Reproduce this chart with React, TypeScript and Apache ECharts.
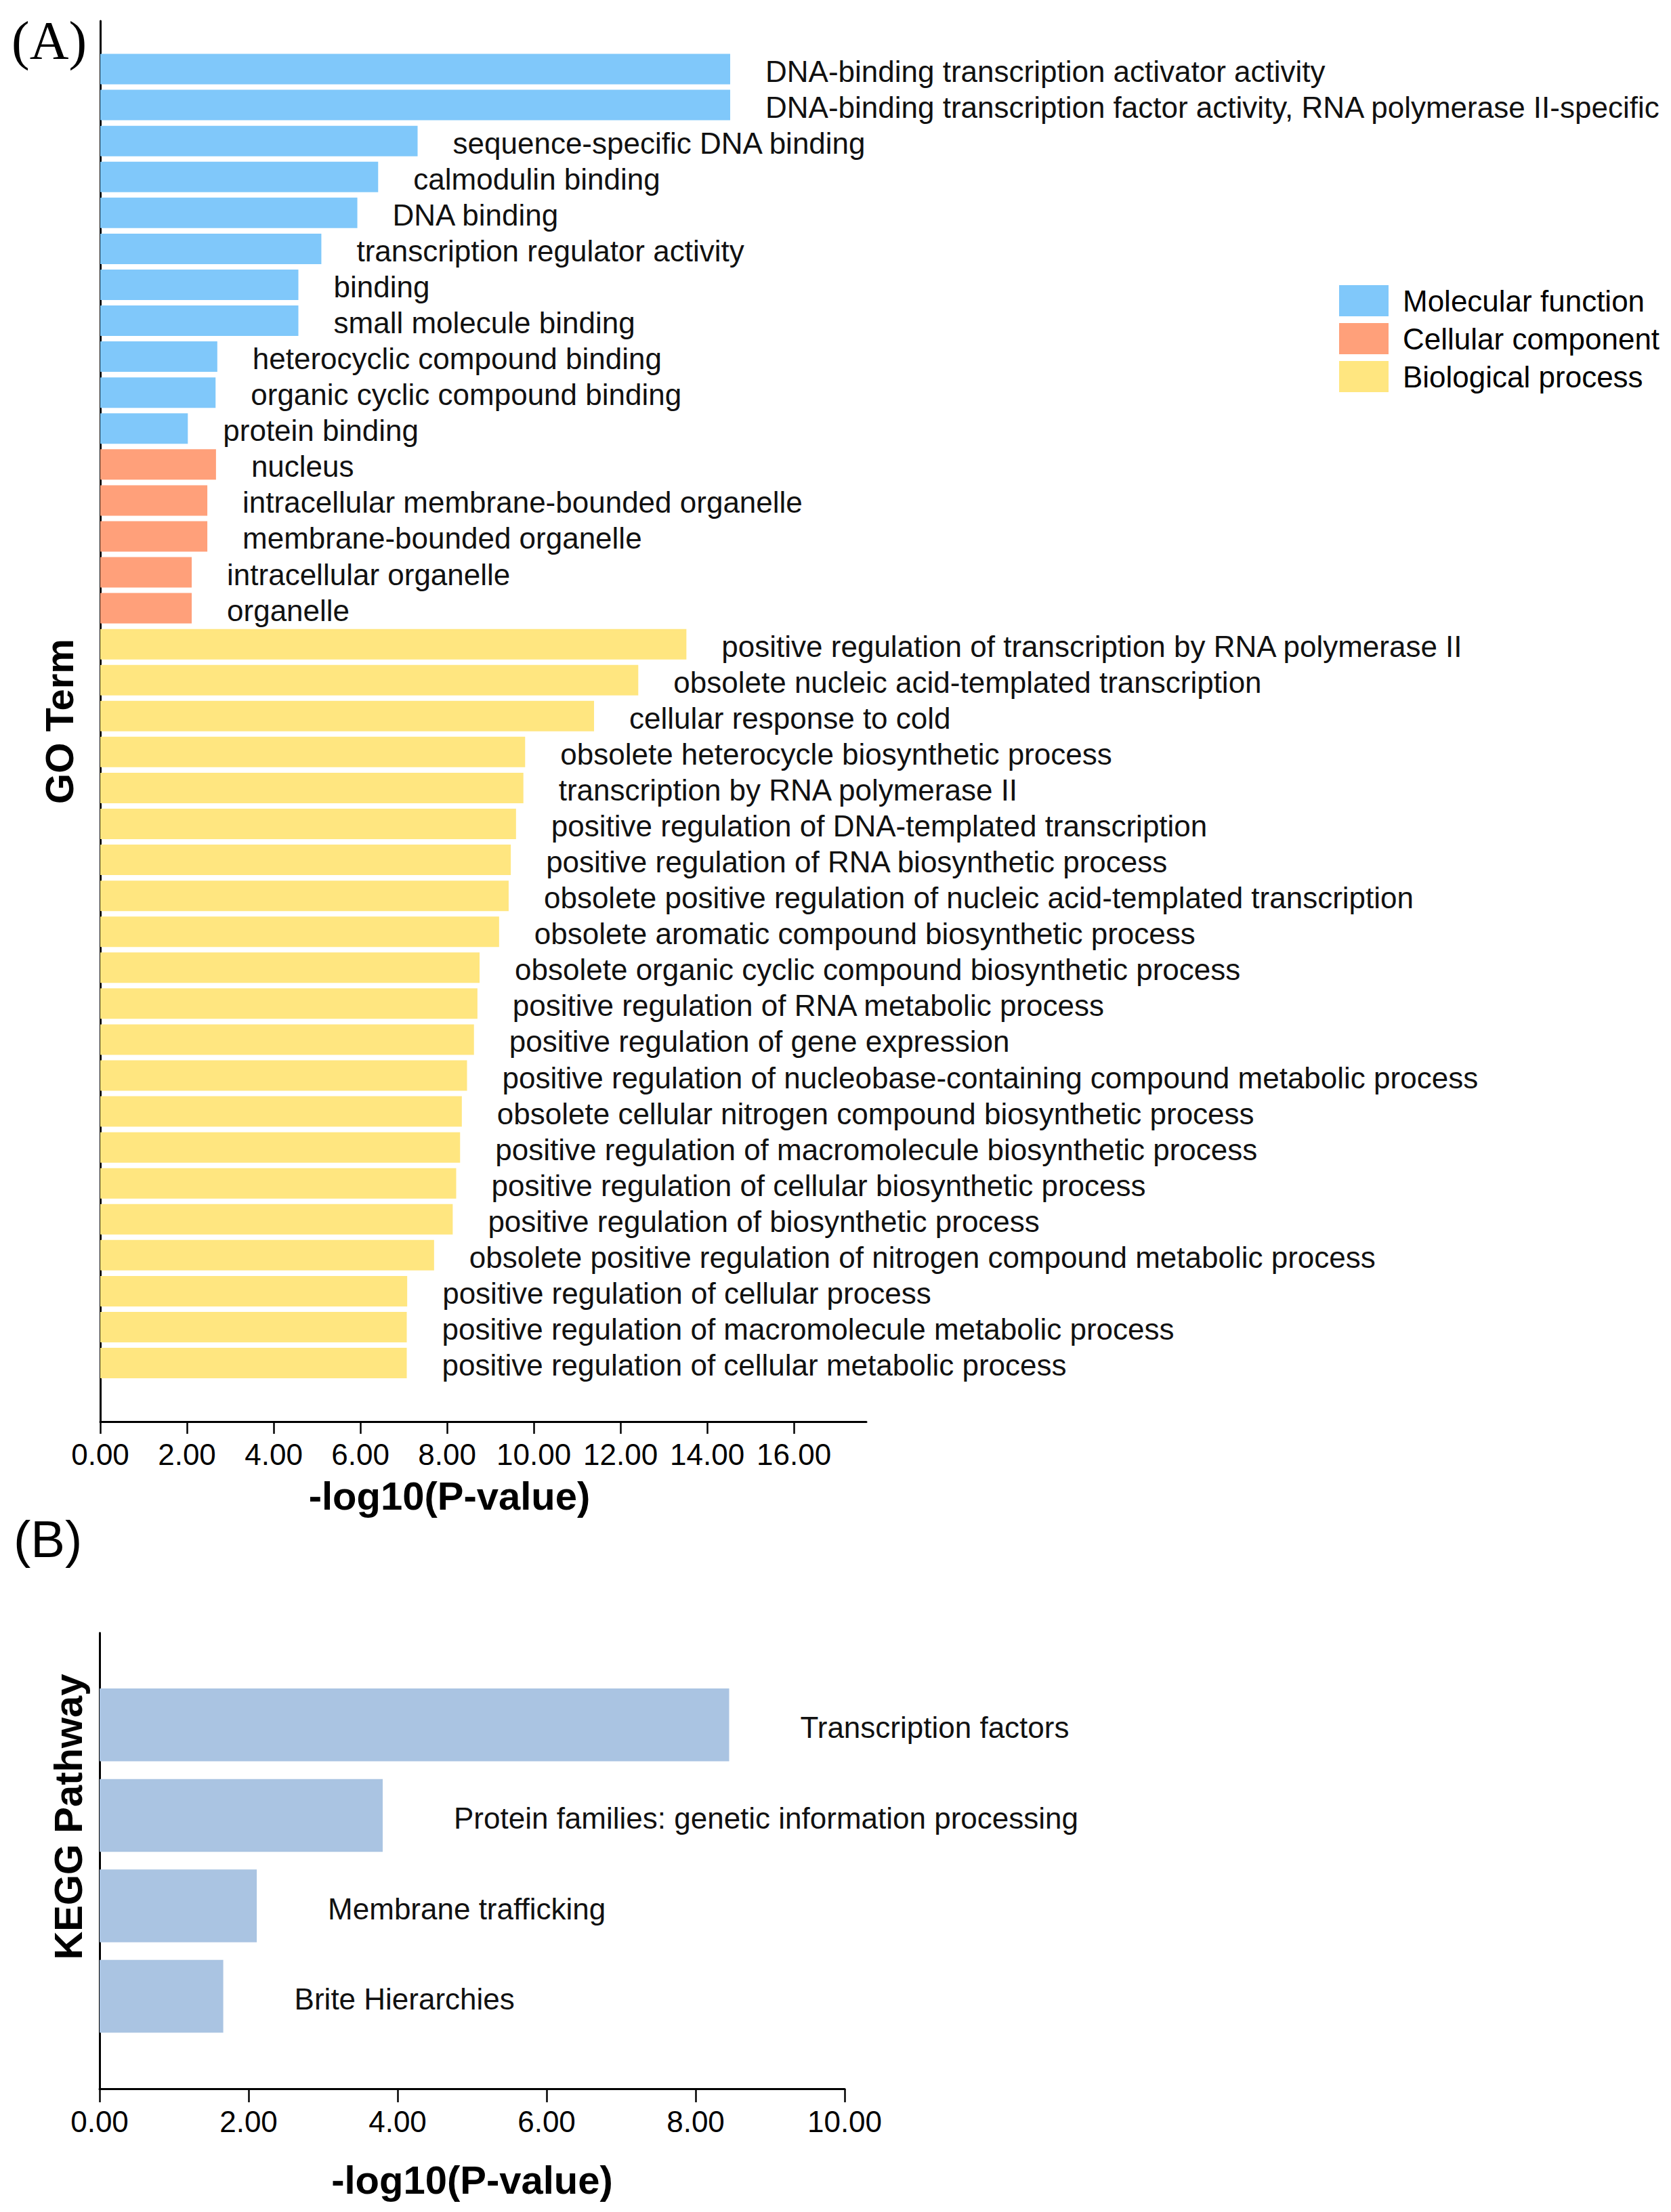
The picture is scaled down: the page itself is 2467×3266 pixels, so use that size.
import React, { useEffect, useRef } from "react";
import * as echarts from "echarts";

// ---- GO enrichment (panel A) ----
const mfTerms = [
  "DNA-binding transcription activator activity",
  "DNA-binding transcription factor activity, RNA polymerase II-specific",
  "sequence-specific DNA binding",
  "calmodulin binding",
  "DNA binding",
  "transcription regulator activity",
  "binding",
  "small molecule binding",
  "heterocyclic compound binding",
  "organic cyclic compound binding",
  "protein binding",
];
const mfValues = [14.53, 14.53, 7.32, 6.41, 5.93, 5.1, 4.57, 4.57, 2.7, 2.66, 2.02];

const ccTerms = [
  "nucleus",
  "intracellular membrane-bounded organelle",
  "membrane-bounded organelle",
  "intracellular organelle",
  "organelle",
];
const ccValues = [2.67, 2.47, 2.47, 2.11, 2.11];

const bpTerms = [
  "positive regulation of transcription by RNA polymerase II",
  "obsolete nucleic acid-templated transcription",
  "cellular response to cold",
  "obsolete heterocycle biosynthetic process",
  "transcription by RNA polymerase II",
  "positive regulation of DNA-templated transcription",
  "positive regulation of RNA biosynthetic process",
  "obsolete positive regulation of nucleic acid-templated transcription",
  "obsolete aromatic compound biosynthetic process",
  "obsolete organic cyclic compound biosynthetic process",
  "positive regulation of RNA metabolic process",
  "positive regulation of gene expression",
  "positive regulation of nucleobase-containing compound metabolic process",
  "obsolete cellular nitrogen compound biosynthetic process",
  "positive regulation of macromolecule biosynthetic process",
  "positive regulation of cellular biosynthetic process",
  "positive regulation of biosynthetic process",
  "obsolete positive regulation of nitrogen compound metabolic process",
  "positive regulation of cellular process",
  "positive regulation of macromolecule metabolic process",
  "positive regulation of cellular metabolic process",
];
const bpValues = [
  13.52, 12.41, 11.39, 9.8, 9.76, 9.59, 9.47, 9.42, 9.2, 8.75, 8.7, 8.62, 8.46, 8.34, 8.3,
  8.21, 8.13, 7.7, 7.08, 7.07, 7.07,
];

const goGroups = ["Molecular function", "Cellular component", "Biological process"];
const goTicks = [0, 2, 4, 6, 8, 10, 12, 14, 16];

// ---- KEGG enrichment (panel B) ----
const keggTerms = [
  "Transcription factors",
  "Protein families: genetic information processing",
  "Membrane trafficking",
  "Brite Hierarchies",
];
const keggValues = [8.45, 3.8, 2.11, 1.66];
const keggTicks = [0, 2, 4, 6, 8, 10];

const FONT = '"Liberation Sans", Arial, Helvetica, sans-serif';
const COLORS = ["#80C8FA", "#FFA07A", "#FFE680"];
const KEGG_COLOR = "#AAC4E2";

export default function App() {
  const ref = useRef<HTMLDivElement>(null);

  useEffect(() => {
    document.body.style.margin = "0";
    const chart = echarts.init(ref.current!, null, { renderer: "svg" });

    const allTerms = [...mfTerms, ...ccTerms, ...bpTerms];
    const groups = [mfValues, ccValues, bpValues];
    const offsets = [0, mfTerms.length, mfTerms.length + ccTerms.length];
    const goSeries = groups.map((vals, g) => ({
      name: goGroups[g],
      type: "bar",
      xAxisIndex: 0,
      yAxisIndex: 0,
      barWidth: 45,
      barGap: "-100%",
      itemStyle: { color: COLORS[g] },
      label: {
        show: true,
        position: "right",
        distance: 52,
        offset: [0, 3],
        formatter: "{b}",
        fontSize: 44,
        color: "#111",
        fontFamily: FONT,
      },
      data: allTerms.map((_, i) => {
        const k = i - offsets[g];
        return k >= 0 && k < vals.length ? vals[k] : null;
      }),
    }));

    const axisLine = { show: true, lineStyle: { color: "#000", width: 3 } };
    const nameStyle = { fontSize: 58, fontWeight: "bold", color: "#000", fontFamily: FONT };
    const labelFmt = (v: number) => v.toFixed(2);

    const option: any = {
      animation: false,
      backgroundColor: "#fff",
      textStyle: { fontFamily: FONT },
      legend: {
        data: goGroups,
        orient: "vertical",
        left: 1972,
        top: 416,
        itemWidth: 73,
        itemHeight: 46,
        itemGap: 10,
        icon: "rect",
        selectedMode: false,
        textStyle: { fontSize: 44, color: "#000", fontFamily: FONT, padding: [0, 0, 0, 16] },
      },
      graphic: [
        {
          type: "text",
          left: 17,
          top: 20,
          style: { text: "(A)", font: '80px "Liberation Serif", "Times New Roman", serif', fill: "#000" },
        },
        {
          type: "text",
          left: 20,
          top: 2234,
          style: { text: "(B)", font: '76px "Liberation Sans", Arial, sans-serif', fill: "#000" },
        },
      ],
      grid: [
        { left: 148, top: 75.5, width: 1131, height: 1963.6 },
        { left: 148, top: 31, width: 1131, height: 2068 },
        { left: 147, top: 2480, width: 1100, height: 534.4 },
        { left: 147, top: 2411, width: 1100, height: 673 },
      ],
      xAxis: [
        { gridIndex: 0, type: "value", min: 0, max: 17.67, show: false },
        {
          gridIndex: 1,
          type: "value",
          min: 0,
          max: 17.67,
          axisLine,
          splitLine: { show: false },
          axisTick: { show: true, length: 18, lineStyle: { color: "#000", width: 2.5 }, customValues: goTicks },
          axisLabel: { customValues: goTicks, formatter: labelFmt, fontSize: 44, color: "#000", margin: 26 },
          name: "-log10(P-value)",
          nameLocation: "middle",
          nameGap: 80,
          nameTextStyle: { ...nameStyle, padding: [0, 100, 0, 0] },
        },
        { gridIndex: 2, type: "value", min: 0, max: 10, show: false },
        {
          gridIndex: 3,
          type: "value",
          min: 0,
          max: 10,
          axisLine,
          splitLine: { show: false },
          axisTick: { show: true, length: 20, lineStyle: { color: "#000", width: 2.5 }, customValues: keggTicks },
          axisLabel: { customValues: keggTicks, formatter: labelFmt, fontSize: 44, color: "#000", margin: 26 },
          name: "-log10(P-value)",
          nameLocation: "middle",
          nameGap: 105,
          nameTextStyle: nameStyle,
        },
      ],
      yAxis: [
        {
          gridIndex: 0,
          type: "category",
          data: allTerms,
          inverse: true,
          axisLine: { show: false },
          axisTick: { show: false },
          axisLabel: { show: false },
        },
        {
          gridIndex: 1,
          type: "value",
          min: 0,
          max: 1,
          axisLine,
          axisTick: { show: false },
          axisLabel: { show: false },
          splitLine: { show: false },
          name: "GO Term",
          nameLocation: "middle",
          nameRotate: 90,
          nameGap: 32,
          nameTextStyle: nameStyle,
        },
        {
          gridIndex: 2,
          type: "category",
          data: keggTerms,
          inverse: true,
          axisLine: { show: false },
          axisTick: { show: false },
          axisLabel: { show: false },
        },
        {
          gridIndex: 3,
          type: "value",
          min: 0,
          max: 1,
          axisLine,
          axisTick: { show: false },
          axisLabel: { show: false },
          splitLine: { show: false },
          name: "KEGG Pathway",
          nameLocation: "middle",
          nameRotate: 90,
          nameGap: 18,
          nameTextStyle: { ...nameStyle, padding: [0, 0, 0, 130] },
        },
      ],
      series: [
        ...goSeries,
        {
          name: "KEGG",
          type: "bar",
          xAxisIndex: 2,
          yAxisIndex: 2,
          barWidth: 107.5,
          itemStyle: { color: KEGG_COLOR },
          label: {
            show: true,
            position: "right",
            distance: 105,
            offset: [0, 4],
            formatter: "{b}",
            fontSize: 44,
            color: "#111",
            fontFamily: FONT,
          },
          data: keggValues,
        },
      ],
    };

    chart.setOption(option);
    return () => chart.dispose();
  }, []);

  return <div ref={ref} style={{ width: 2467, height: 3266, background: "#fff" }} />;
}
